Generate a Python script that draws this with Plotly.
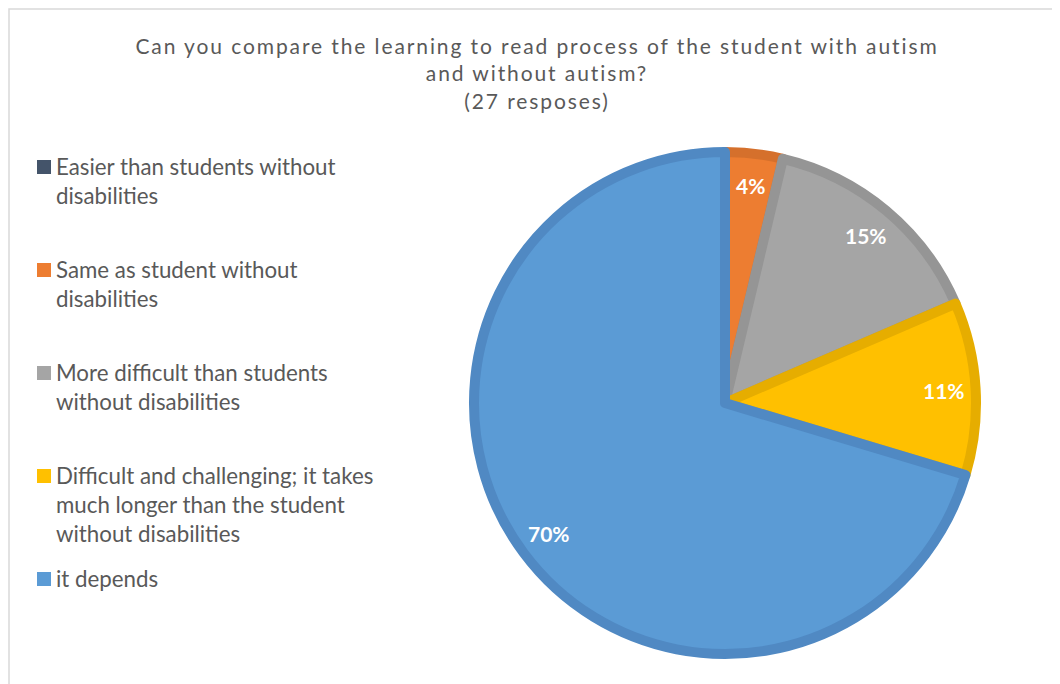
import math
import plotly.graph_objects as go

labels = [
    "Easier than students without disabilities",
    "Same as student without disabilities",
    "More difficult than students without disabilities",
    "Difficult and challenging; it takes much longer than the student without disabilities",
    "it depends",
]
legend_text = [
    "Easier than students without<br>disabilities",
    "Same as student without<br>disabilities",
    "More difficult than students<br>without disabilities",
    "Difficult and challenging; it takes<br>much longer than the student<br>without disabilities",
    "it depends",
]
counts = [0, 1, 4, 3, 19]
fill_colors = ["#44546A", "#ED7D31", "#A5A5A5", "#FFC000", "#5B9BD5"]
edge_colors = ["#3B4A5E", "#D5702C", "#959595", "#E6AD00", "#5089C3"]
title_lines = [
    "Can you compare the learning to read process of the student with autism",
    "and without autism?",
    "(27 resposes)",
]

# figure is drawn 8px in from the page corner (body margin)
W, H = 1052, 676
cx, cy, r = 717, 395, 251


def px(x):
    return x / W


def py(y):
    return 1 - y / H


fig = go.Figure(
    go.Pie(
        labels=labels,
        values=counts,
        sort=False,
        direction="clockwise",
        rotation=0,
        marker=dict(colors=fill_colors, line=dict(color=edge_colors, width=10)),
        textinfo="none",
        domain=dict(x=[px(cx - r), px(cx + r)], y=[py(cy + r), py(cy - r)]),
        hoverinfo="label+value+percent",
        showlegend=False,
    )
)

annotations = []

# percentage labels along each slice's mid angle
total = sum(counts)
cum = 0
label_r = 0.86 * (r + 4)
for v in counts:
    if v > 0:
        mid = (cum + v / 2) / total * 2 * math.pi
        lx = cx + label_r * math.sin(mid)
        ly = cy - label_r * math.cos(mid)
        annotations.append(
            dict(
                x=px(lx), y=py(ly), xref="paper", yref="paper",
                text=f"{round(100 * v / total)}%",
                showarrow=False, xanchor="center", yanchor="middle",
                font=dict(family="Lato", size=21, color="white", weight="bold"),
            )
        )
    cum += v

# legend (equal spacing like the original)
shapes = []
leg_x, leg_y0, leg_step, leg_lh = 46, 158, 103, 29
for i, (t, c) in enumerate(zip(legend_text, fill_colors)):
    yc = leg_y0 + i * leg_step
    annotations.append(
        dict(
            x=px(leg_x), y=py(yc - leg_lh / 2 - 1), xref="paper", yref="paper",
            text=t, showarrow=False, xanchor="left", yanchor="top", align="left",
            font=dict(family="Lato", size=22.3, color="#595959"),
        )
    )
    shapes.append(
        dict(
            type="rect", xref="paper", yref="paper",
            x0=px(29), x1=px(43), y0=py(yc + 8), y1=py(yc - 6),
            fillcolor=c, line=dict(width=0),
        )
    )

# chart-area border
shapes.append(
    dict(
        type="rect", xref="paper", yref="paper",
        x0=px(1), x1=1.02, y0=-0.02, y1=py(1),
        line=dict(color="#D9D9D9", width=1.5),
        fillcolor="rgba(0,0,0,0)", layer="below",
    )
)

title_html = "<br>".join(
    f'<span style="letter-spacing:1.9px">{t}</span>' for t in title_lines
)

fig.update_layout(
    width=W,
    height=H,
    margin=dict(l=0, r=0, t=0, b=0),
    paper_bgcolor="white",
    showlegend=False,
    title=dict(
        text=title_html,
        x=px(529),
        xanchor="center",
        y=py(46),
        yanchor="top",
        font=dict(family="Lato", size=21, color="#595959"),
    ),
    annotations=annotations,
    shapes=shapes,
)

fig.write_html("out.html")
